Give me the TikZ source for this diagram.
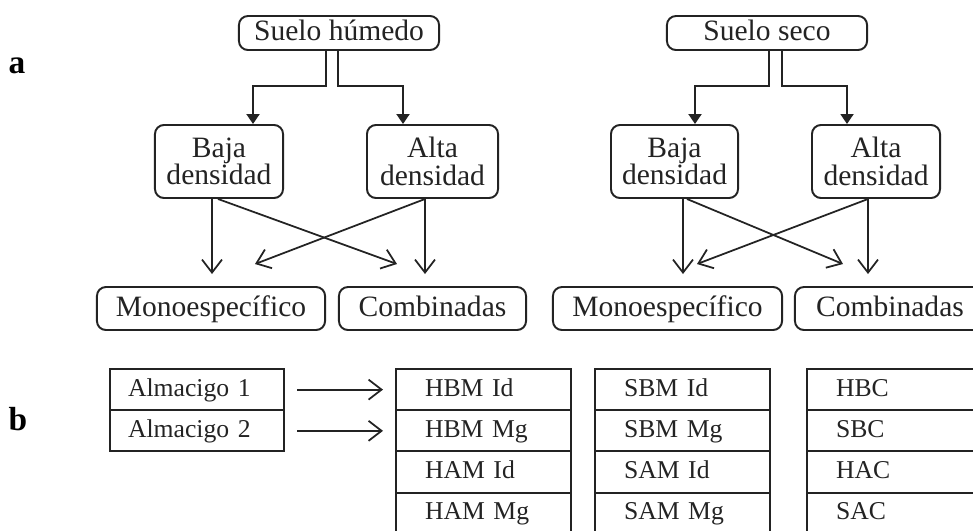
\documentclass[tikz,border=0pt]{standalone}
\usepackage{fontspec}
\setmainfont{Liberation Serif}
\usepackage{xcolor}
\usepackage{tikz}
\usetikzlibrary{arrows.meta, positioning, calc}
\definecolor{inkGray}{RGB}{35,35,35}
\tikzstyle{arrow}     = [-{Triangle[length=1mm, width=1.3mm]}, line width=0.55pt, draw=inkGray]
\tikzstyle{openarrow} = [-{Straight Barb[length=1.3mm, width=2mm]}, line width=0.5pt, draw=inkGray]

\begin{document}
\begin{tikzpicture}[x=0.01cm, y=-0.01cm,
  box/.style={draw=inkGray, line width=0.55pt, rounded corners=0.9mm, align=center, inner sep=0pt, text=inkGray, font=\fontsize{8.4}{7.8}\selectfont},
  oneline/.style={box, text height=2.1mm, text depth=0.6mm},
  cell/.style={draw=inkGray, line width=0.55pt, rectangle, minimum height=4.12mm, inner xsep=2.9mm, inner ysep=0pt, text height=1.85mm, text depth=0.55mm, text width=11.7mm, align=left, outer sep=0pt, text=inkGray, font=\fontsize{7.3}{8}\selectfont},
  widecell/.style={cell, inner xsep=1.8mm, text width=13.8mm},
  tag/.style={font=\fontsize{9.5}{11}\selectfont\bfseries}
]
\useasboundingbox (0,0) rectangle (973,530);
\clip (0,0) rectangle (973,530);

% Panel labels
\node[tag] (taga) at (17,66) {a};
\node[tag] (tagb) at (18,419) {b};

% Suelo humedo
\node[oneline, minimum width=20mm, minimum height=3.4mm] (hsuelo) at (339,33) {Suelo húmedo};
\node[box, minimum width=12.8mm, minimum height=7.3mm] (hbaja) at (219,161.5) {Baja\\densidad};
\node[box, minimum width=13.1mm, minimum height=7.3mm] (halta) at (432.5,161.5) {Alta\\densidad};
\node[oneline, minimum width=22.8mm, minimum height=4.3mm] (hmono) at (211,308.5) {Monoespecífico};
\node[oneline, minimum width=18.7mm, minimum height=4.3mm] (hcomb) at (432.5,308.5) {Combinadas};

% Suelo seco
\node[oneline, minimum width=20mm, minimum height=3.4mm] (ssuelo) at (767,33) {Suelo seco};
\node[box, minimum width=12.7mm, minimum height=7.3mm] (sbaja) at (674.5,161.5) {Baja\\densidad};
\node[box, minimum width=12.8mm, minimum height=7.3mm] (salta) at (876,161.5) {Alta\\densidad};
\node[oneline, minimum width=22.9mm, minimum height=4.3mm] (smono) at (667.5,308.5) {Monoespecífico};
\node[oneline, minimum width=19mm, minimum height=4.3mm] (scomb) at (890,308.5) {Combinadas};

% Soil to density
\draw[arrow] ($(hsuelo.south)+(-13,0)$) |- ($(hbaja.north)+(34,-38)$) -- ($(hbaja.north)+(34,0)$);
\draw[arrow] ($(hsuelo.south)+(-1,0)$) |- ($(halta.north)+(-29.5,-38)$) -- ($(halta.north)+(-29.5,0)$);
\draw[arrow] ($(ssuelo.south)+(2,0)$) |- ($(sbaja.north)+(20.5,-38)$) -- ($(sbaja.north)+(20.5,0)$);
\draw[arrow] ($(ssuelo.south)+(15,0)$) |- ($(salta.north)+(-29,-38)$) -- ($(salta.north)+(-29,0)$);

% Density to planting
\draw[openarrow] ($(hbaja.south)+(-7,0)$) -- ($(hmono.north)+(1,-12)$);
\draw[openarrow] ($(hbaja.south)+(-1,0)$) -- ($(hcomb.north)+(-35.5,-22)$);
\draw[openarrow] ($(halta.south)+(-7.5,0)$) -- ($(hmono.north)+(44,-22)$);
\draw[openarrow] ($(halta.south)+(-7.5,0)$) -- ($(hcomb.north)+(-7.5,-12)$);
\draw[openarrow] ($(sbaja.south)+(8.5,0)$) -- ($(smono.north)+(15.5,-12)$);
\draw[openarrow] ($(sbaja.south)+(12.5,0)$) -- ($(scomb.north)+(-47,-22)$);
\draw[openarrow] ($(salta.south)+(-8,0)$) -- ($(smono.north)+(29.5,-22)$);
\draw[openarrow] ($(salta.south)+(-8,0)$) -- ($(scomb.north)+(-22,-12)$);

% Seedbeds
\node[widecell, anchor=north west] (alm1) at (110,369) {Almacigo 1};
\node[widecell, below=0pt of alm1] (alm2) {Almacigo 2};

% Treatment tables
\node[cell, anchor=north west] (hbmid) at (396,369) {HBM Id};
\node[cell, below=0pt of hbmid] (hbmmg) {HBM Mg};
\node[cell, below=0pt of hbmmg] (hamid) {HAM Id};
\node[cell, below=0pt of hamid] (hammg) {HAM Mg};

\node[cell, anchor=north west] (sbmid) at (595,369) {SBM Id};
\node[cell, below=0pt of sbmid] (sbmmg) {SBM Mg};
\node[cell, below=0pt of sbmmg] (samid) {SAM Id};
\node[cell, below=0pt of samid] (sammg) {SAM Mg};

\node[cell, anchor=north west] (hbc) at (807,369) {HBC};
\node[cell, below=0pt of hbc] (sbc) {SBC};
\node[cell, below=0pt of sbc] (hac) {HAC};
\node[cell, below=0pt of hac] (sac) {SAC};

\draw[openarrow] ($(alm1.east)+(13,0)$) -- ($(hbmid.west)+(-13,0)$);
\draw[openarrow] ($(alm2.east)+(13,0)$) -- ($(hbmmg.west)+(-13,0)$);

\end{tikzpicture}
\end{document}
